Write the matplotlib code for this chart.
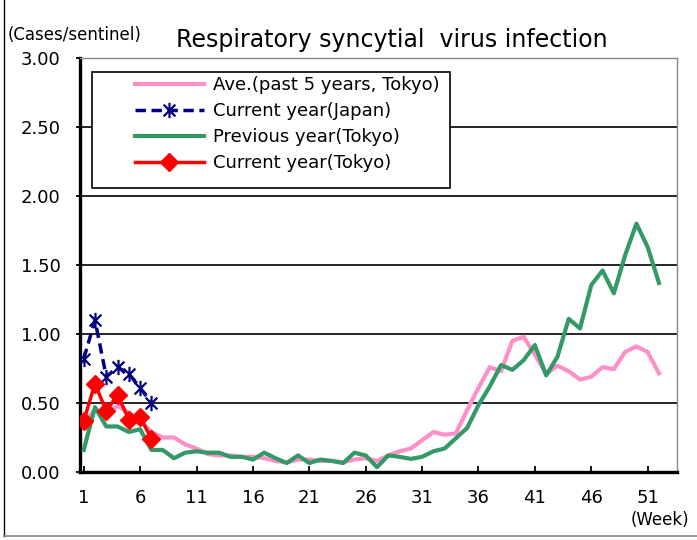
import matplotlib
matplotlib.use("Agg")
import matplotlib.pyplot as plt
from matplotlib.path import Path
from matplotlib.patches import Rectangle
from matplotlib.lines import Line2D

plt.rcParams['font.family'] = ['DejaVu Sans']

weeks = list(range(1, 53))
# average of past 5 years, Tokyo
avg5 = [0.36, 0.45, 0.42, 0.48, 0.43, 0.37, 0.29, 0.25, 0.25, 0.20,
        0.17, 0.13, 0.12, 0.12, 0.11, 0.11, 0.10, 0.08, 0.07, 0.09,
        0.09, 0.08, 0.08, 0.07, 0.09, 0.10, 0.08, 0.12, 0.15, 0.17,
        0.23, 0.29, 0.27, 0.28, 0.45, 0.61, 0.76, 0.73, 0.95, 0.98,
        0.85, 0.71, 0.77, 0.73, 0.67, 0.69, 0.76, 0.745, 0.87, 0.91,
        0.87, 0.715]
# previous year, Tokyo
prev_tokyo = [0.16, 0.47, 0.33, 0.33, 0.29, 0.31, 0.16, 0.16, 0.10, 0.14,
              0.15, 0.14, 0.14, 0.11, 0.11, 0.09, 0.14, 0.10, 0.065, 0.12,
              0.065, 0.09, 0.08, 0.065, 0.14, 0.12, 0.035, 0.12, 0.11, 0.095,
              0.11, 0.15, 0.17, 0.245, 0.32, 0.485, 0.62, 0.775, 0.74, 0.81,
              0.92, 0.70, 0.835, 1.11, 1.04, 1.355, 1.46, 1.295, 1.57, 1.80,
              1.63, 1.37]
cur_weeks = [1, 2, 3, 4, 5, 6, 7]
cur_japan = [0.82, 1.10, 0.69, 0.76, 0.71, 0.61, 0.50]
cur_tokyo = [0.37, 0.64, 0.44, 0.56, 0.38, 0.40, 0.24]

xticks = [1, 6, 11, 16, 21, 26, 31, 36, 41, 46, 51]
yticks = [0.0, 0.5, 1.0, 1.5, 2.0, 2.5, 3.0]

# excel-like star marker: x plus vertical bar
star = Path([(-1, -1), (1, 1), (-1, 1), (1, -1), (0, -1.3), (0, 1.3)],
            [Path.MOVETO, Path.LINETO, Path.MOVETO, Path.LINETO, Path.MOVETO, Path.LINETO])

fig = plt.figure(figsize=(6.97, 5.4), dpi=100)
ax = fig.add_axes([80/697, 68/540, 597/697, 414/540])

ax.plot(weeks, avg5, color="#FF8FC8", lw=3, label="Ave.(past 5 years, Tokyo)", zorder=3)
ax.plot(cur_weeks, cur_japan, color="#000080", lw=2.5, ls="--", dashes=(3, 1.6),
        marker=star, ms=11, mew=1.6, label="Current year(Japan)", zorder=5)
ax.plot(weeks, prev_tokyo, color="#339966", lw=3, label="Previous year(Tokyo)", zorder=4)
ax.plot(cur_weeks, cur_tokyo, color="#FF0000", lw=2.5, marker="D", ms=9,
        label="Current year(Tokyo)", zorder=6)

ax.set_xlim(0.67, 53.6)
ax.set_ylim(0, 3)
ax.set_xticks(xticks)
ax.set_yticks(yticks)
ax.set_yticklabels(["%.2f" % v for v in yticks])
ax.tick_params(axis="x", direction="in", length=4, width=1.3, pad=12, labelsize=13)
ax.tick_params(axis="y", direction="out", length=3, width=1.3, pad=11, labelsize=13)

for v in yticks[1:-1]:
    ax.axhline(v, color="black", lw=1.2, zorder=1)

ax.spines["left"].set_linewidth(2.4)
ax.spines["bottom"].set_linewidth(2.4)
ax.spines["top"].set_color("#888888")
ax.spines["right"].set_color("#888888")
ax.spines["top"].set_linewidth(1.0)
ax.spines["right"].set_linewidth(1.0)

# legend frame
ax.add_patch(Rectangle((12/597, (472-188)/414), 358/597, 116/414, transform=ax.transAxes,
                       facecolor="white", edgecolor="black", lw=1.2, zorder=7))
leg = ax.legend(loc="upper left", bbox_to_anchor=(55/597, (472-76)/414), frameon=False,
                fontsize=13, handlelength=3.8, handletextpad=0.5, labelspacing=0.45,
                borderpad=0, borderaxespad=0)
leg.set_zorder(8)

fig.text(392/697, 1-40/540, "Respiratory syncytial  virus infection", ha="center", va="center",
         fontsize=17)
fig.text(8/697, 1-35/540, "(Cases/sentinel)", ha="left", va="center", fontsize=12)
fig.text(660/697, 1-520/540, "(Week)", ha="center", va="center", fontsize=12)

# chart area border
fig.add_artist(Line2D([4/697, 4/697], [4/540, 1], transform=fig.transFigure, color="black", lw=1))
fig.add_artist(Line2D([4/697, 1], [4/540, 4/540], transform=fig.transFigure, color="#888888", lw=1.2))

fig.savefig("out.png", dpi=100)
